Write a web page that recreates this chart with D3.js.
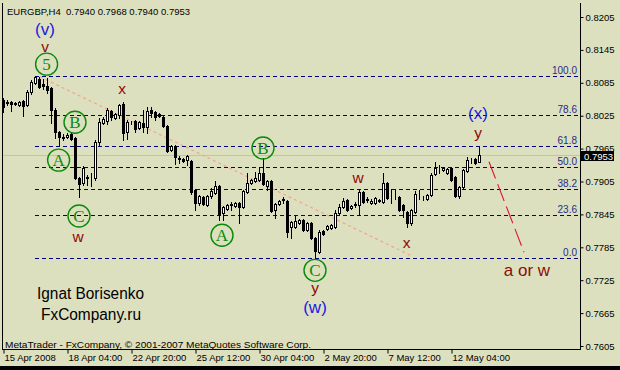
<!DOCTYPE html>
<html><head><meta charset="utf-8">
<script src="https://cdn.jsdelivr.net/npm/d3@7"></script>
<style>body{margin:0;background:#dde0bf;} svg{display:block}</style>
</head><body><svg id="c" width="620" height="370"></svg>
<script>
// ---------- data ----------
const headerText = "EURGBP,H4  0.7940 0.7968 0.7940 0.7953";
const openP = [.8054,.8050,.8050,.8048,.8045,.8052,.8045,.8068,.8085,.8092,
.8083,.8079,.8076,.8035,.7995,.7986,.7986,.7992,.7984,.7911,
.7902,.7913,.7913,.7911,.7977,.8012,.8015,.8034,.8021,.8026,
.8046,.7995,.8014,.8015,.8003,.8012,.8004,.8035,.8032,.8028,
.8023,.8006,.7962,.7970,.7948,.7946,.7944,.7942,.7889,.7866,
.7877,.7862,.7879,.7884,.7897,.7848,.7855,.7864,.7860,.7866,
.7858,.7886,.7902,.7906,.7908,.7920,.7897,.7906,.7853,.7864,
.7873,.7869,.7822,.7822,.7829,.7835,.7817,.7829,.7802,.7776,
.7815,.7818,.7820,.7822,.7848,.7858,.7871,.7857,.7864,.7862,
.7886,.7873,.7866,.7866,.7871,.7868,.7902,.7877,.7877,.7877,
.7862,.7849,.7829,.7849,.7879,.7875,.7873,.7880,.7919,.7930,
.7926,.7920,.7930,.7913,.7879,.7895,.7924,.7941,.7946,.7940];
const highP = [.8057,.8054,.8052,.8050,.8052,.8054,.8072,.8090,.8097,.8096,
.8092,.8094,.8077,.8039,.7997,.7992,.7993,.7995,.7986,.7913,
.7933,.7917,.7920,.7981,.8021,.8023,.8039,.8035,.8030,.8046,
.8050,.8017,.8015,.8017,.8015,.8035,.8041,.8041,.8034,.8030,
.8024,.8008,.7972,.7972,.7952,.7948,.7953,.7944,.7891,.7880,
.7879,.7880,.7893,.7906,.7899,.7860,.7864,.7868,.7868,.7868,
.7889,.7920,.7910,.7922,.7931,.7948,.7908,.7908,.7866,.7871,
.7877,.7871,.7833,.7842,.7837,.7837,.7831,.7831,.7804,.7817,
.7817,.7826,.7827,.7853,.7864,.7875,.7873,.7862,.7868,.7889,
.7888,.7877,.7873,.7877,.7873,.7920,.7904,.7891,.7889,.7879,
.7864,.7851,.7855,.7888,.7889,.7879,.7882,.7920,.7941,.7935,
.7931,.7930,.7931,.7915,.7897,.7928,.7950,.7948,.7948,.7968];
const lowP = [.8032,.8045,.8034,.8045,.8043,.8024,.8043,.8065,.8083,.8076,
.8074,.8066,.8012,.7984,.7970,.7981,.7984,.7981,.7910,.7877,
.7899,.7899,.7897,.7908,.7970,.8010,.8010,.8017,.8019,.8021,
.7981,.7983,.8010,.7995,.8001,.7995,.7993,.8023,.8017,.8023,
.8004,.7959,.7961,.7937,.7939,.7941,.7935,.7882,.7853,.7862,
.7862,.7860,.7875,.7882,.7835,.7835,.7853,.7853,.7858,.7829,
.7857,.7884,.7900,.7904,.7906,.7899,.7889,.7849,.7838,.7862,
.7866,.7804,.7802,.7820,.7827,.7815,.7815,.7800,.7765,.7775,
.7807,.7817,.7818,.7820,.7846,.7857,.7851,.7855,.7858,.7844,
.7866,.7868,.7864,.7864,.7868,.7866,.7873,.7866,.7873,.7851,
.7840,.7822,.7826,.7848,.7873,.7871,.7871,.7879,.7917,.7920,
.7924,.7919,.7906,.7877,.7875,.7893,.7922,.7939,.7937,.7940];
const closeP = [.8041,.8049,.8046,.8047,.8050,.8043,.8068,.8086,.8096,.8077,
.8079,.8072,.8035,.7995,.7986,.7985,.7990,.7983,.7911,.7900,
.7930,.7912,.7913,.7977,.8014,.8019,.8035,.8023,.8028,.8045,
.7993,.8014,.8013,.8001,.8014,.8004,.8034,.8030,.8023,.8024,
.8006,.7961,.7970,.7950,.7946,.7942,.7952,.7886,.7866,.7879,
.7864,.7879,.7888,.7897,.7846,.7858,.7862,.7863,.7866,.7858,
.7888,.7902,.7908,.7911,.7920,.7900,.7906,.7851,.7864,.7869,
.7872,.7813,.7831,.7833,.7835,.7817,.7829,.7802,.7778,.7813,
.7809,.7824,.7826,.7848,.7858,.7869,.7853,.7860,.7863,.7886,
.7868,.7872,.7869,.7875,.7869,.7902,.7875,.7876,.7876,.7853,
.7853,.7829,.7853,.7882,.7878,.7874,.7880,.7917,.7930,.7929,
.7930,.7928,.7908,.7879,.7895,.7926,.7944,.7940,.7939,.7953];
const priceTicks = [0.8205,0.8145,0.8085,0.8025,0.7965,0.7905,0.7845,0.7785,0.7725,0.7665,0.7605];
const timeTickIdx = [0,16,32,48,64,80,96,112];
const timeTickLabels = ["15 Apr 2008","18 Apr 04:00","22 Apr 20:00","25 Apr 12:00","30 Apr 04:00","2 May 20:00","7 May 12:00","12 May 04:00"];
const fibLevels = [100,78.6,61.8,50,38.2,23.6,0];
const fibHigh = 0.8097, fibLow = 0.7765, fibStartIdx = 8;
const lastPrice = 0.7953;
const fibTrendIdx = [9.25,102.25], fibTrendPrice = [0.8096,0.7769];
const projIdx = [121.5,130.25], projPrice = [0.7941,0.7776];
const circleText = ["5","B","A","C","A","B","C"];
const circleIdx = [10.9,18,13.9,19,54.75,65,78];
const circlePrice = [.8119,.8013,.7944,.7842,.7807,.7966,.7743];
const waveText = ["(v)","v","x","w","y","(w)","w","x","(x)","y","a or w"];
const waveIdx = [10.5,10.5,29.75,18.75,78,78,88.75,100.9,118.75,118.75,131];
const wavePrice = [.8183,.8151,.8074,.7804,.7711,.7676,.7913,.7794,.8031,.7995,.7743];
const waveBlue = [true,false,false,false,false,true,false,false,true,false,false];
const authorLines = ["Ignat Borisenko","FxCompany.ru"];
const footerText = "MetaTrader - FxCompany, \u00a9 2001-2007 MetaQuotes Software Corp.";

// ---------- drawing ----------
const BG = "#dde0bf";
const svg = d3.select("#c");
svg.append("rect").attr("width",620).attr("height",370).attr("fill",BG);
const x = d3.scaleLinear().domain([0, openP.length-1]).range([3, 479]);
const y = d3.scaleLinear().domain([0.7605, 0.8205]).range([346, 17]);
const cr = v => Math.round(v) + 0.5;
const SANS = "'Liberation Sans', Arial, sans-serif";

// current price line
svg.append("line").attr("x1",2).attr("x2",580).attr("y1",cr(y(lastPrice))).attr("y2",cr(y(lastPrice)))
  .attr("stroke","#c0c0c0").attr("stroke-width",1);

// fib levels
const fibG = svg.append("g");
fibLevels.forEach(L => {
  const p = fibLow + (fibHigh - fibLow) * L / 100;
  const yy = cr(y(p));
  fibG.append("line").attr("x1", Math.round(x(fibStartIdx))).attr("x2",578).attr("y1",yy).attr("y2",yy)
    .attr("stroke","#000080").attr("stroke-width",1).attr("stroke-dasharray","4,3").attr("shape-rendering","crispEdges");
  fibG.append("text").attr("x",577).attr("y",yy-2.5).attr("text-anchor","end")
    .attr("font-family",SANS).attr("font-size","10px").attr("fill","#2a2a86").text(L.toFixed(1));
});

// fib trend (dotted salmon)
svg.append("line").attr("x1",x(fibTrendIdx[0])).attr("y1",y(fibTrendPrice[0]))
  .attr("x2",x(fibTrendIdx[1])).attr("y2",y(fibTrendPrice[1]))
  .attr("stroke","#f2a48a").attr("stroke-width",1.2).attr("stroke-dasharray","3,3");

// projection (red dashed)
svg.append("line").attr("x1",x(projIdx[0])).attr("y1",y(projPrice[0]))
  .attr("x2",x(projIdx[1])).attr("y2",y(projPrice[1]))
  .attr("stroke","#dc143c").attr("stroke-width",1.1).attr("stroke-dasharray","18,6");

// candles
const cg = svg.append("g").attr("shape-rendering","crispEdges");
openP.forEach((o,i) => {
  const c = closeP[i], h = highP[i], l = lowP[i];
  const cx = Math.round(x(i)) + 0.5;
  cg.append("line").attr("x1",cx).attr("x2",cx).attr("y1",Math.round(y(h))).attr("y2",Math.round(y(l))+1)
    .attr("stroke","#000");
  const yo = Math.round(y(o)), yc = Math.round(y(c));
  const top = Math.min(yo,yc), bot = Math.max(yo,yc);
  cg.append("rect").attr("x",cx-1).attr("y",top+0.5).attr("width",2).attr("height",bot-top)
    .attr("fill", c >= o ? "#ffffff" : "#000000").attr("stroke","#000").attr("stroke-width",1);
});

// circled wave labels
circleText.forEach((t,i) => {
  const gx = x(circleIdx[i]), gy = y(circlePrice[i]);
  svg.append("circle").attr("cx",gx).attr("cy",gy).attr("r",11).attr("fill","none")
    .attr("stroke","#0a8a0a").attr("stroke-width",1.4);
  svg.append("text").attr("x",gx).attr("y",gy).attr("dy","0.36em").attr("text-anchor","middle")
    .attr("font-family","'Liberation Serif','Times New Roman',serif").attr("font-size","17px")
    .attr("fill","#0a8a0a").text(t);
});

// other wave labels
waveText.forEach((t,i) => {
  svg.append("text").attr("x",x(waveIdx[i])).attr("y",y(wavePrice[i])).attr("dy","0.36em")
    .attr("text-anchor","middle").attr("font-family",SANS)
    .attr("font-size", waveBlue[i] ? "17px" : (t.length > 2 ? "17px" : "15.5px"))
    .attr("fill", waveBlue[i] ? "#1a1ae0" : "#8e0a0a").text(t);
});

// author text
svg.append("text").attr("x",37).attr("y",299).attr("font-family",SANS).attr("font-size","16px")
  .attr("fill","#000").attr("textLength",107).attr("lengthAdjust","spacingAndGlyphs").text(authorLines[0]);
svg.append("text").attr("x",41).attr("y",320).attr("font-family",SANS).attr("font-size","16px")
  .attr("fill","#000").attr("textLength",100).attr("lengthAdjust","spacingAndGlyphs").text(authorLines[1]);

// header + footer
svg.append("text").attr("x",7).attr("y",15).attr("font-family",SANS).attr("font-size","9.5px")
  .attr("fill","#000").attr("xml:space","preserve").text(headerText);
svg.append("text").attr("x",5).attr("y",348).attr("font-family",SANS).attr("font-size","9.5px")
  .attr("fill","#000").attr("textLength",306).attr("lengthAdjust","spacingAndGlyphs").text(footerText);

// frame
svg.append("line").attr("x1",2.5).attr("x2",2.5).attr("y1",3).attr("y2",350).attr("stroke","#000");
svg.append("line").attr("x1",580.5).attr("x2",580.5).attr("y1",3).attr("y2",350).attr("stroke","#000");
svg.append("line").attr("x1",2).attr("x2",581).attr("y1",349.5).attr("y2",349.5).attr("stroke","#000");

// right axis
const ay = svg.append("g").attr("transform","translate(580.5,0)")
  .call(d3.axisRight(y).tickValues(priceTicks).tickSize(3).tickPadding(2).tickFormat(d3.format(".4f")));
ay.select(".domain").remove();
ay.selectAll("text").attr("font-family",SANS).attr("font-size","9.5px").attr("fill","#000");
ay.selectAll("line").attr("stroke","#000");

// bottom axis
const ax = svg.append("g").attr("transform","translate(0,349.5)")
  .call(d3.axisBottom(x).tickValues(timeTickIdx).tickSize(4).tickFormat((d,i)=>timeTickLabels[i]));
ax.select(".domain").remove();
ax.selectAll("line").attr("stroke","#000").attr("transform","translate(0.5,0)");
ax.selectAll("text").attr("text-anchor","start").attr("x",1).attr("y",5).attr("dy","0.71em")
  .attr("font-family",SANS).attr("font-size","9.5px").attr("fill","#000");

// price box
const py = y(lastPrice);
svg.append("rect").attr("x",581).attr("y",Math.round(py)-4).attr("width",33).attr("height",10).attr("fill","#000");
svg.append("text").attr("x",584).attr("y",Math.round(py)+4.5).attr("font-family",SANS).attr("font-size","9.5px")
  .attr("fill","#fff").text(lastPrice.toFixed(4));

// bottom band
svg.append("rect").attr("x",0).attr("y",366).attr("width",620).attr("height",4).attr("fill","#000");
</script></body></html>
